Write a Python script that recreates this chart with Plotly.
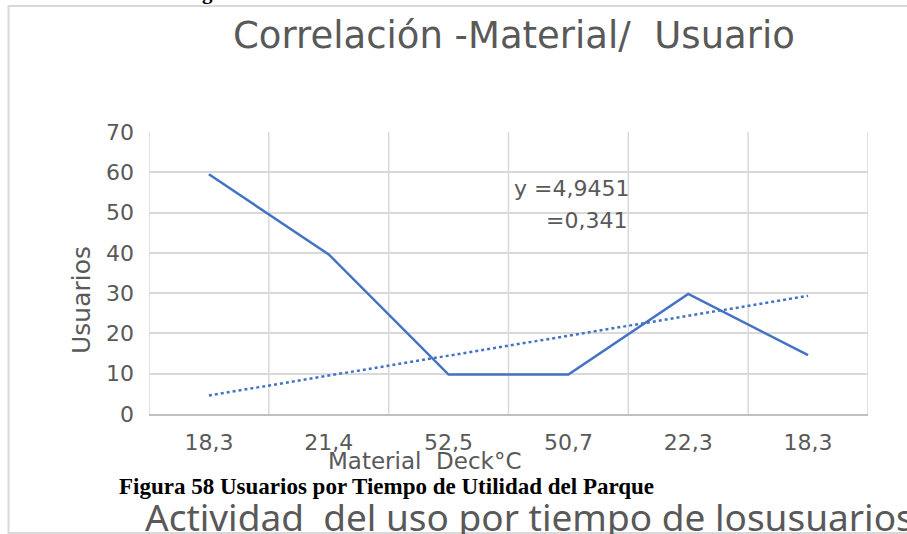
import plotly.graph_objects as go

# Datos
categorias = ["18,3", "21,4", "52,5", "50,7", "22,3", "18,3"]
usuarios = [59.5, 39.6, 9.8, 9.8, 29.8, 14.6]
pendiente = 4.9451
intercepto = -0.35

W, H = 907, 534
L, R, T, B = 149, 868, 132, 414  # área de trazado en píxeles

def px(x):
    return (x - L) / (R - L)

def py(y):
    return (B - y) / (B - T)

idx = list(range(len(categorias)))
tendencia = [pendiente * (i + 1) + intercepto for i in idx]

AZUL = "#4472C4"
GRIS = "#595959"
REJILLA = "#D9D9D9"

fig = go.Figure()
fig.add_trace(go.Scatter(x=idx, y=usuarios, mode="lines",
                         line=dict(color=AZUL, width=2.5), showlegend=False,
                         hoverinfo="skip"))
fig.add_trace(go.Scatter(x=idx, y=tendencia, mode="lines",
                         line=dict(color=AZUL, width=2.5, dash="dot"),
                         showlegend=False, hoverinfo="skip"))

shapes = []
# líneas verticales entre categorías
for i in range(len(categorias) + 1):
    shapes.append(dict(type="line", xref="x", yref="y", x0=i - 0.5, x1=i - 0.5,
                       y0=0, y1=70, line=dict(color=REJILLA, width=1.5), layer="below"))
# marco exterior del gráfico
shapes.append(dict(type="rect", xref="paper", yref="paper",
                   x0=px(8.5), x1=px(915), y0=py(533), y1=py(6),
                   line=dict(color=REJILLA, width=2)))

annotations = [
    dict(text="Correlación -Material/  Usuario", x=px(514), y=py(35), xref="paper", yref="paper",
         xanchor="center", yanchor="middle", showarrow=False,
         font=dict(family="DejaVu Sans", size=37, color=GRIS)),
    dict(text="Usuarios", x=px(81), y=py(300), xref="paper", yref="paper", textangle=-90,
         xanchor="center", yanchor="middle", showarrow=False,
         font=dict(family="DejaVu Sans", size=25, color=GRIS)),
    dict(text="Material  Deck°C", x=px(424), y=py(461), xref="paper", yref="paper",
         xanchor="center", yanchor="middle", showarrow=False,
         font=dict(family="DejaVu Sans", size=23, color=GRIS)),
    dict(text="y =4,9451", x=px(631), y=py(188), xref="paper", yref="paper",
         xanchor="right", yanchor="middle", showarrow=False,
         font=dict(family="DejaVu Sans", size=22, color=GRIS)),
    dict(text="=0,341", x=px(629), y=py(220), xref="paper", yref="paper",
         xanchor="right", yanchor="middle", showarrow=False,
         font=dict(family="DejaVu Sans", size=22, color=GRIS)),
    dict(text="<b>Figura 58 Usuarios por Tiempo de Utilidad del Parque</b>",
         x=px(117), y=py(486), xref="paper", yref="paper",
         xanchor="left", yanchor="middle", showarrow=False,
         font=dict(family="Liberation Serif", size=23, color="#000000")),
    dict(text="Actividad  del uso por tiempo de losusuarios",
         x=px(143), y=py(516), xref="paper", yref="paper",
         xanchor="left", yanchor="middle", showarrow=False,
         font=dict(family="Noto Sans", size=37, color=GRIS)),
    dict(text="<b>g</b>", x=px(207), y=py(-8), xref="paper", yref="paper",
         xanchor="center", yanchor="middle", showarrow=False,
         font=dict(family="Liberation Serif", size=21, color="#000000")),
]

fig.update_layout(
    width=W, height=H,
    margin=dict(l=L, r=W - R, t=T, b=H - B),
    paper_bgcolor="white", plot_bgcolor="white",
    shapes=shapes, annotations=annotations,
    xaxis=dict(range=[-0.5, len(categorias) - 0.5], tickmode="array",
               tickvals=idx, ticktext=categorias, showgrid=False, zeroline=False,
               showline=True, linecolor="#BFBFBF", linewidth=2,
               ticks="", ticklabelstandoff=8,
               tickfont=dict(family="DejaVu Sans", size=22, color=GRIS)),
    yaxis=dict(range=[0, 70], dtick=10, showgrid=True, gridcolor=REJILLA, gridwidth=1.5,
               zeroline=False, showline=False, ticks="", ticklabelstandoff=14,
               tickfont=dict(family="DejaVu Sans", size=22, color=GRIS)),
)

fig.write_html("out.html")
